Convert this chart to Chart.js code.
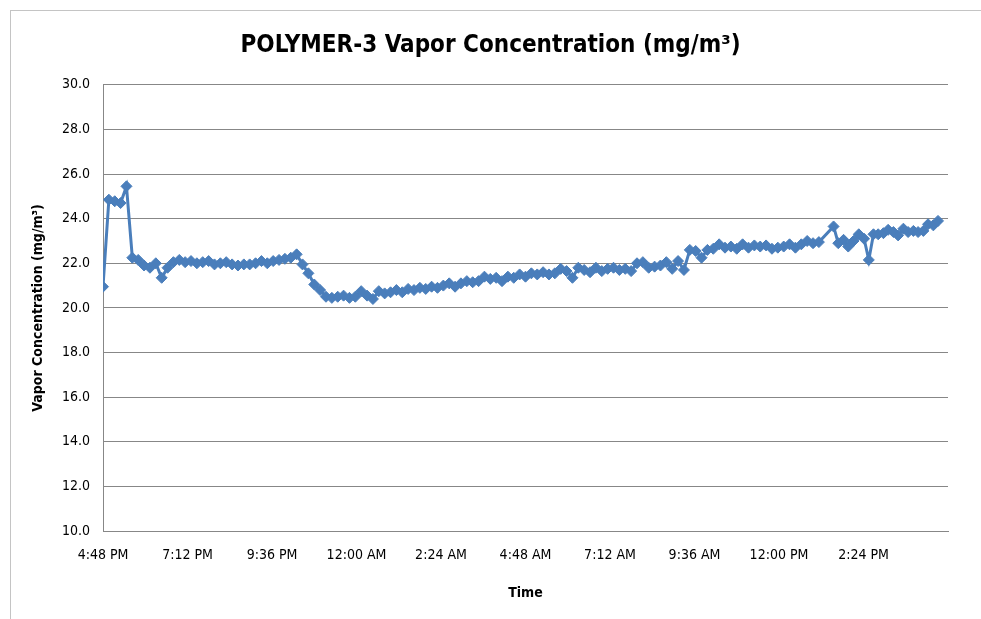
<!DOCTYPE html>
<html>
<head>
<meta charset="utf-8">
<script src="https://cdn.jsdelivr.net/npm/chart.js@4"></script>
<style>
    body { margin: 0; background: #fff; overflow: hidden; }
    #wrap { position: relative; width: 981px; height: 619px; }
    #frame { position: absolute; left: 10px; top: 10px; width: 1000px; height: 700px; border: 1px solid #c4c4c4; pointer-events: none; }
</style>
</head>
<body>
<div id="wrap">
    <canvas id="vapor-chart" width="981" height="619"></canvas>
    <div id="frame"></div>
</div>
<script>
// minutes after 4:48 PM
var sampleMinutes = [
    0, 10, 20, 30, 40, 50, 60, 70, 80, 90,
    100, 110, 120, 130, 140, 150, 160, 170, 180, 190,
    200, 210, 220, 230, 240, 250, 260, 270, 280, 290,
    300, 310, 320, 330, 340, 350, 360, 370, 380, 390,
    400, 410, 420, 430, 440, 450, 460, 470, 480, 490,
    500, 510, 520, 530, 540, 550, 560, 570, 580, 590,
    600, 610, 620, 630, 640, 650, 660, 670, 680, 690,
    700, 710, 720, 730, 740, 750, 760, 770, 780, 790,
    800, 810, 820, 830, 840, 850, 860, 870, 880, 890,
    900, 910, 920, 930, 940, 950, 960, 970, 980, 990,
    1000, 1010, 1020, 1030, 1040, 1050, 1060, 1070, 1080, 1090,
    1100, 1110, 1120, 1130, 1140, 1150, 1160, 1170, 1180, 1190,
    1200, 1210, 1220, 1245, 1253, 1262, 1270, 1279, 1288, 1297,
    1305, 1313, 1321, 1330, 1338, 1347, 1355, 1364, 1372, 1381,
    1389, 1398, 1406, 1415, 1423
];

var vaporValues = [
    20.95, 24.85, 24.78, 24.7, 25.45, 22.25, 22.15, 21.9, 21.8, 22.0,
    21.35, 21.8, 22.05, 22.15, 22.05, 22.1, 22.0, 22.05, 22.1, 21.95,
    22.0, 22.05, 21.95, 21.9, 21.95, 21.95, 22.0, 22.1, 22.0, 22.1,
    22.15, 22.2, 22.25, 22.4, 21.95, 21.55, 21.05, 20.8, 20.5, 20.45,
    20.5, 20.55, 20.45, 20.5, 20.75, 20.55, 20.4, 20.75, 20.65, 20.7,
    20.8, 20.7, 20.85, 20.8, 20.9, 20.85, 20.95, 20.9, 21.0, 21.1,
    20.95, 21.1, 21.2, 21.15, 21.2, 21.4, 21.3, 21.35, 21.2, 21.4,
    21.35, 21.5, 21.4, 21.55, 21.5, 21.6, 21.5, 21.55, 21.75, 21.65,
    21.35, 21.8, 21.7, 21.6, 21.8, 21.65, 21.75, 21.8, 21.7, 21.75,
    21.65, 22.0, 22.05, 21.8, 21.85, 21.9, 22.05, 21.75, 22.1, 21.7,
    22.6, 22.55, 22.25, 22.6, 22.65, 22.85, 22.7, 22.75, 22.65, 22.85,
    22.7, 22.8, 22.75, 22.8, 22.65, 22.7, 22.75, 22.85, 22.7, 22.85,
    23.0, 22.9, 22.95, 23.65, 22.9, 23.05, 22.75, 23.0, 23.3, 23.1,
    22.15, 23.3, 23.3, 23.35, 23.5, 23.4, 23.25, 23.55, 23.4, 23.45,
    23.4, 23.45, 23.75, 23.7, 23.9
];

var timeLabels = ['4:48 PM', '7:12 PM', '9:36 PM', '12:00 AM', '2:24 AM',
    '4:48 AM', '7:12 AM', '9:36 AM', '12:00 PM', '2:24 PM'];

var lineColor = '#4A7EBB';
var gridColor = '#878787';
var fontFamily = '"DejaVu Sans Condensed", "DejaVu Sans", sans-serif';

var points = [];
for (var i = 0; i < sampleMinutes.length; i++) {
    points.push({ x: sampleMinutes[i], y: vaporValues[i] });
}

Chart.defaults.font.family = fontFamily;
Chart.defaults.color = '#000';

var ctx = document.getElementById('vapor-chart').getContext('2d');

var vaporChart = new Chart(ctx, {
    type: 'line',
    data: {
        datasets: [{
            label: 'Vapor Concentration',
            data: points,
            borderColor: lineColor,
            backgroundColor: lineColor,
            borderWidth: 3,
            pointStyle: 'rectRot',
            pointRadius: 5.5,
            pointBorderWidth: 1,
            pointBorderColor: lineColor,
            pointBackgroundColor: lineColor,
            tension: 0
        }]
    },
    options: {
        responsive: false,
        animation: false,
        layout: { padding: 0 },
        plugins: {
            legend: { display: false },
            tooltip: { enabled: false },
            title: {
                display: true,
                text: 'POLYMER-3 Vapor Concentration (mg/m\u00B3)',
                color: '#000',
                font: { size: 24, weight: 'bold', family: fontFamily },
                padding: { top: 31, bottom: 25 }
            }
        },
        scales: {
            x: {
                type: 'linear',
                min: 0,
                max: 1440,
                afterFit: function (scale) { scale.height = 88; },
                ticks: {
                    stepSize: 144,
                    autoSkip: false,
                    maxRotation: 0,
                    padding: 16,
                    font: { size: 14 },
                    callback: function (value) {
                        var idx = Math.round(value / 144);
                        return idx < timeLabels.length ? timeLabels[idx] : '';
                    }
                },
                grid: { display: false, drawTicks: false },
                border: { display: true, color: gridColor, width: 1 },
                title: {
                    display: true,
                    text: 'Time',
                    font: { size: 14, weight: 'bold' },
                    padding: { top: 0, bottom: 17 }
                }
            },
            y: {
                min: 10,
                max: 30,
                afterFit: function (scale) { scale.width = 103; },
                ticks: {
                    stepSize: 2,
                    padding: 13,
                    font: { size: 14 },
                    callback: function (value) { return value.toFixed(1); }
                },
                grid: { color: gridColor, lineWidth: 1, drawTicks: false },
                border: { display: true, color: gridColor, width: 1 },
                title: {
                    display: true,
                    text: 'Vapor Concentration (mg/m\u00B3)',
                    font: { size: 14, weight: 'bold' },
                    padding: { top: 30, bottom: 0 }
                }
            },
            // empty right-hand margin so the plot stops short of the frame
            yRight: {
                position: 'right',
                min: 10,
                max: 30,
                afterFit: function (scale) { scale.width = 33; },
                ticks: { display: false },
                grid: { display: false, drawTicks: false },
                border: { display: false }
            }
        }
    }
});
</script>
</body>
</html>
